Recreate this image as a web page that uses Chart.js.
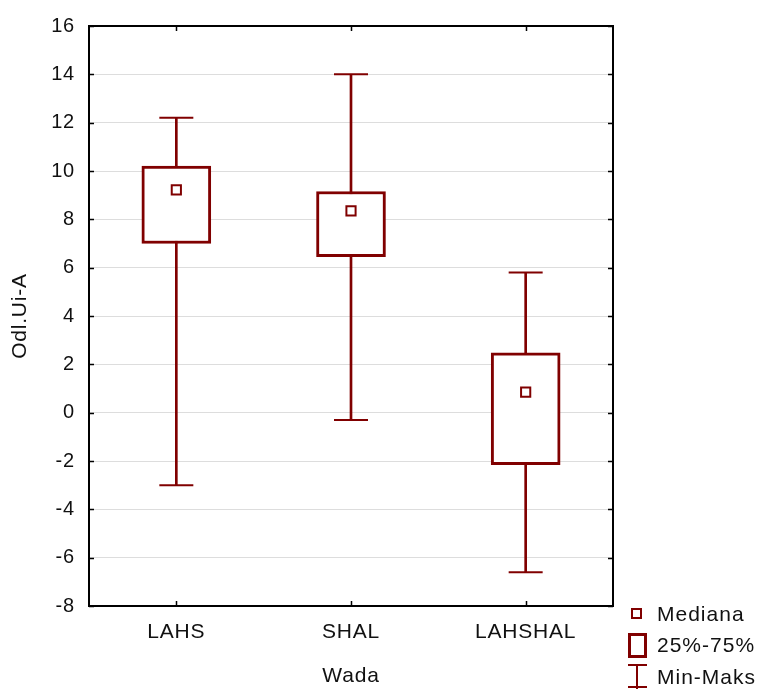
<!DOCTYPE html>
<html>
<head>
<meta charset="utf-8">
<script src="https://cdn.jsdelivr.net/npm/chart.js@4/dist/chart.umd.min.js"></script>
<style>
  html, body { margin: 0; padding: 0; background: #fff; }
  #wrap { position: relative; width: 763px; height: 689px; overflow: hidden; }
  #chart { position: absolute; left: 0; top: 0; }
  .leg { position: absolute; font: 21px "Liberation Sans", Arial, sans-serif; color: #111; letter-spacing: 1px; line-height: 24px; }
  .sym { position: absolute; box-sizing: border-box; }
</style>
</head>
<body>
<div id="wrap">
  <canvas id="chart" width="763" height="689"></canvas>

  <div class="sym" style="left:631px;top:608px;width:11px;height:11px;border:2px solid #800000;background:#fff;"></div>
  <div class="leg" style="left:657px;top:602px;">Mediana</div>

  <div class="sym" style="left:628px;top:633px;width:19px;height:25px;border:3px solid #800000;background:#fff;"></div>
  <div class="leg" style="left:657px;top:633px;">25%-75%</div>

  <div class="sym" style="left:628px;top:664px;width:19px;height:2px;background:#800000;"></div>
  <div class="sym" style="left:636px;top:664px;width:2px;height:25px;background:#800000;"></div>
  <div class="sym" style="left:628px;top:686px;width:19px;height:2px;background:#800000;"></div>
  <div class="leg" style="left:657px;top:665px;">Min-Maks</div>
</div>

<script>
(function () {
    'use strict';

    var kategorie = ['LAHS', 'SHAL', 'LAHSHAL'];
    var minima    = [-3.0, -0.3, -6.6];
    var q1        = [7.0, 6.45, -2.15];
    var mediany   = [9.22, 8.35, 0.85];
    var q3        = [10.2, 9.15, 2.48];
    var maksima   = [12.2, 14.0, 5.8];
    var yTicks    = [-8, -6, -4, -2, 0, 2, 4, 6, 8, 10, 12, 14, 16];

    var KOLOR = '#800000';
    var FONT = { family: '"Liberation Sans", Arial, sans-serif', size: 21 };
    var FONT_Y = { family: '"Liberation Sans", Arial, sans-serif', size: 20 };

    var pudelka = kategorie.map(function (k, i) { return [q1[i], q3[i]]; });
    var wasy    = kategorie.map(function (k, i) { return [minima[i], maksima[i]]; });

    // lekkie rozstrzelenie liter jak w oryginale
    var odstep = {
        id: 'odstep',
        beforeLayout: function (chart) { chart.ctx.letterSpacing = '0.8px'; },
        beforeDraw: function (chart) { chart.ctx.letterSpacing = '0.8px'; }
    };

    // ramka z wewnetrznymi kreskami podzialki
    var ramka = {
        id: 'ramka',
        afterDraw: function (chart) {
            var ctx = chart.ctx;
            var a = chart.chartArea;
            var x = chart.scales.x;
            var y = chart.scales.y;
            var dl = 5;
            ctx.save();
            ctx.strokeStyle = '#000';
            ctx.lineWidth = 2;
            ctx.strokeRect(a.left, a.top, a.right - a.left, a.bottom - a.top);
            ctx.beginPath();
            yTicks.forEach(function (v) {
                var py = Math.round(y.getPixelForValue(v)) + 0.5;
                ctx.moveTo(a.left, py); ctx.lineTo(a.left + dl, py);
                ctx.moveTo(a.right, py); ctx.lineTo(a.right - dl, py);
            });
            kategorie.forEach(function (k, i) {
                var px = Math.round(x.getPixelForValue(i)) + 0.5;
                ctx.moveTo(px, a.top); ctx.lineTo(px, a.top + dl);
                ctx.moveTo(px, a.bottom); ctx.lineTo(px, a.bottom - dl);
            });
            ctx.lineWidth = 1.5;
            ctx.stroke();
            ctx.restore();
        }
    };

    new Chart(document.getElementById('chart'), {
        data: {
            labels: kategorie,
            datasets: [
                {
                    type: 'line',
                    label: 'Mediana',
                    data: mediany,
                    showLine: false,
                    pointStyle: 'rect',
                    pointRadius: 6.5,
                    pointBorderWidth: 2,
                    pointBorderColor: KOLOR,
                    pointBackgroundColor: '#fff',
                    order: 0
                },
                {
                    type: 'bar',
                    label: '25%-75%',
                    data: pudelka,
                    backgroundColor: '#fff',
                    borderColor: KOLOR,
                    borderWidth: 3,
                    borderSkipped: false,
                    barThickness: 69,
                    grouped: false,
                    order: 1
                },
                {
                    type: 'line',
                    label: 'Maks',
                    data: maksima,
                    showLine: false,
                    pointStyle: 'line',
                    pointRadius: 17,
                    pointBorderWidth: 2,
                    pointBorderColor: KOLOR,
                    order: 2
                },
                {
                    type: 'line',
                    label: 'Min',
                    data: minima,
                    showLine: false,
                    pointStyle: 'line',
                    pointRadius: 17,
                    pointBorderWidth: 2,
                    pointBorderColor: KOLOR,
                    order: 2
                },
                {
                    type: 'bar',
                    label: 'Min-Maks',
                    data: wasy,
                    backgroundColor: KOLOR,
                    borderWidth: 0,
                    barThickness: 2,
                    grouped: false,
                    order: 3
                }
            ]
        },
        options: {
            responsive: false,
            animation: false,
            layout: { padding: { top: 26, right: 150, bottom: 0, left: 0 } },
            plugins: {
                legend: { display: false },
                tooltip: { enabled: false }
            },
            scales: {
                x: {
                    offset: true,
                    grid: { display: false, drawTicks: false },
                    border: { display: false },
                    ticks: { color: '#111', font: FONT, padding: 14 },
                    title: { display: true, text: 'Wada', color: '#111', font: FONT, padding: 0 },
                    afterFit: function (s) { s.height = 83; }
                },
                y: {
                    min: -8,
                    max: 16,
                    grid: { color: '#dddddd', lineWidth: 1, drawTicks: false },
                    border: { display: false },
                    afterBuildTicks: function (s) {
                        s.ticks = yTicks.map(function (v) { return { value: v }; });
                    },
                    ticks: { color: '#111', font: FONT_Y, padding: 14 },
                    title: { display: true, text: 'Odl.Ui-A', color: '#111', font: FONT, padding: { top: 8, bottom: 0 } },
                    afterFit: function (s) { s.width = 89; }
                }
            }
        },
        plugins: [odstep, ramka]
    });
})();
</script>
</body>
</html>
